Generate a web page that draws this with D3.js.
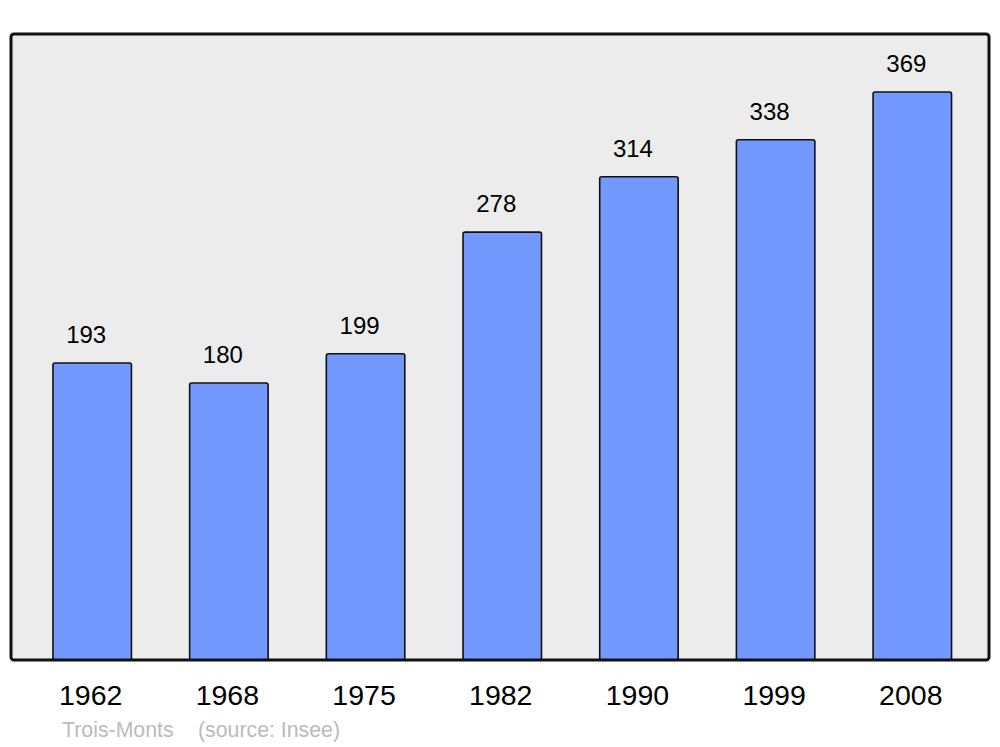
<!DOCTYPE html>
<html>
<head>
<meta charset="utf-8">
<script src="https://cdn.jsdelivr.net/npm/d3@7"></script>
<style>
  body { margin: 0; background: #fff; }
  svg { display: block; font-family: "Liberation Sans", Arial, sans-serif; }
</style>
</head>
<body>
<svg id="chart" width="1000" height="747"></svg>
<script>
// population by census year
const years = ["1962", "1968", "1975", "1982", "1990", "1999", "2008"];
const population = [193, 180, 199, 278, 314, 338, 369];
const townName = "Trois-Monts";
const sourceText = "(source: Insee)";

const panel = { left: 11, top: 34, right: 989, bottom: 660 };
const svg = d3.select("#chart");

const xScale = d3.scaleBand()
  .domain(years)
  .range([11, 993.5])
  .paddingInner(0.426)
  .paddingOuter(0.307);

const yScale = d3.scaleLinear()
  .domain([0, 406.7])
  .range([panel.bottom, panel.top]);

// background panel
svg.append("rect")
  .attr("x", panel.left)
  .attr("y", panel.top)
  .attr("width", panel.right - panel.left)
  .attr("height", panel.bottom - panel.top)
  .attr("rx", 3)
  .style("fill", "#ececec");

const data = years.map((y, i) => ({ year: y, value: population[i] }));

// bars
svg.selectAll("rect.bar")
  .data(data)
  .enter()
  .append("rect")
  .attr("class", "bar")
  .attr("x", (d) => xScale(d.year))
  .attr("width", xScale.bandwidth())
  .attr("y", (d) => yScale(d.value))
  .attr("height", (d) => yScale(0) - yScale(d.value))
  .attr("rx", 2)
  .style("fill", "#7399ff")
  .style("stroke", "#111")
  .style("stroke-width", 1.6);

// panel border on top so bars sit inside it
svg.append("rect")
  .attr("x", panel.left)
  .attr("y", panel.top)
  .attr("width", panel.right - panel.left)
  .attr("height", panel.bottom - panel.top)
  .attr("rx", 3)
  .style("fill", "none")
  .style("stroke", "#111")
  .style("stroke-width", 3);

// value labels
svg.selectAll("text.value")
  .data(data)
  .enter()
  .append("text")
  .attr("class", "value")
  .attr("x", (d) => xScale(d.year) + xScale.bandwidth() / 2 - 6)
  .attr("y", (d) => yScale(d.value) - 20)
  .attr("text-anchor", "middle")
  .style("font-size", "24px")
  .style("fill", "#000")
  .text((d) => d.value);

// year labels
svg.selectAll("text.year")
  .data(data)
  .enter()
  .append("text")
  .attr("class", "year")
  .attr("x", (d) => xScale(d.year) + xScale.bandwidth() / 2 - 1.5)
  .attr("y", 705)
  .attr("text-anchor", "middle")
  .style("font-size", "28.5px")
  .style("fill", "#000")
  .text((d) => d.year);

// caption
svg.append("text")
  .attr("x", 62)
  .attr("y", 737)
  .style("font-size", "21.3px")
  .style("fill", "#bbb")
  .text(townName);

svg.append("text")
  .attr("x", 198)
  .attr("y", 737)
  .style("font-size", "21.3px")
  .style("fill", "#bbb")
  .text(sourceText);
</script>
</body>
</html>
